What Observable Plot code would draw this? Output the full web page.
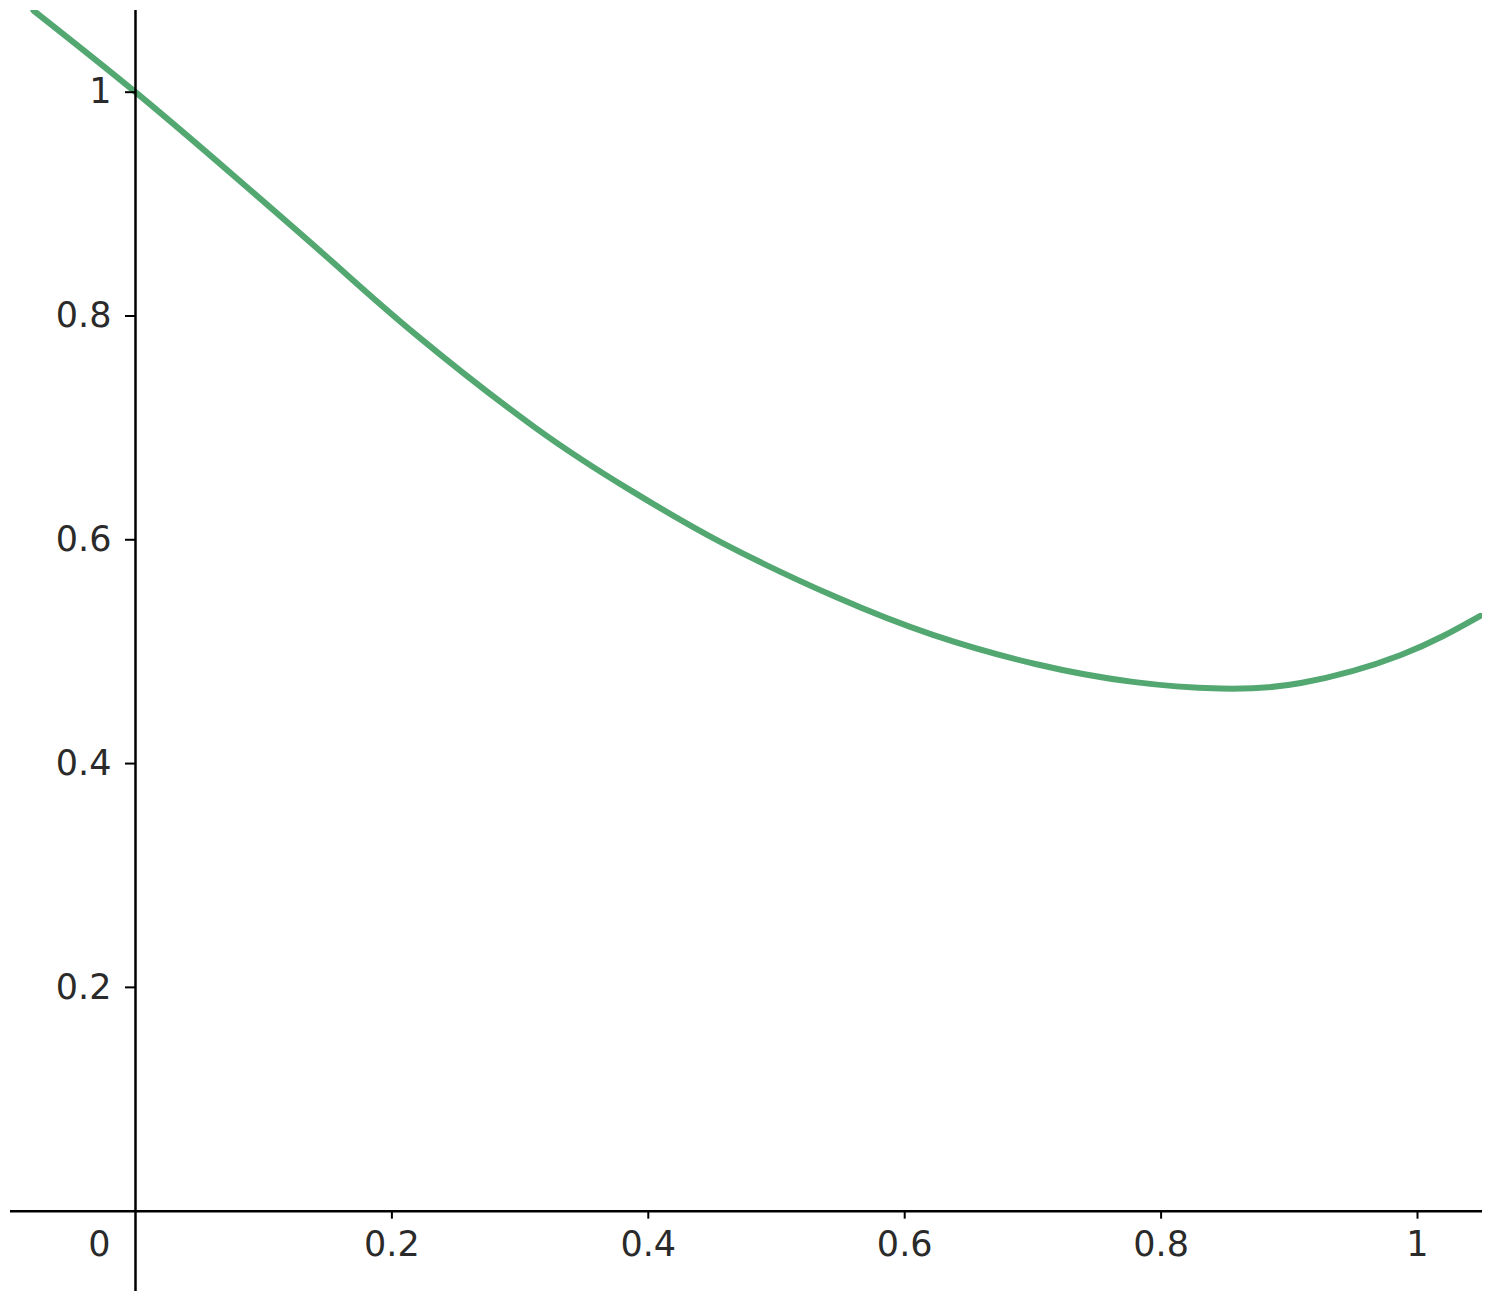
<!DOCTYPE html>
<html>
<head>
<meta charset="utf-8">
<script src="https://cdn.jsdelivr.net/npm/d3@7"></script>
<script src="https://cdn.jsdelivr.net/npm/@observablehq/plot@0.6"></script>
<style>
  html, body { margin: 0; padding: 0; background: #ffffff; }
  #chart svg { display: block; }
</style>
</head>
<body>
<div id="chart"></div>
<script>
// Tick values and labels
const xTicks = [0.2, 0.4, 0.6, 0.8, 1];
const xTickLabels = ["0.2", "0.4", "0.6", "0.8", "1"];
const yTicks = [0.2, 0.4, 0.6, 0.8, 1];
const yTickLabels = ["0.2", "0.4", "0.6", "0.8", "1"];
const originLabel = "0";

// Curve samples
const curveX = [-0.0796, 0, 0.078, 0.152, 0.218, 0.312, 0.385, 0.458, 0.546, 0.622, 0.702, 0.778, 0.846, 0.909, 0.987, 1.049];
const curveY = [1.073, 1.0, 0.924, 0.850, 0.784, 0.700, 0.645, 0.597, 0.549, 0.515, 0.489, 0.473, 0.467, 0.472, 0.497, 0.532];

const points = curveX.map((x, i) => ({x, y: curveY[i]}));

const font = "DejaVu Sans";
const labelColor = "#2a2a2a";
const fs = 35;

const chart = Plot.plot({
  width: 1492,
  height: 1303,
  marginLeft: 10,
  marginRight: 10,
  marginTop: 10,
  marginBottom: 12,
  style: {background: "#ffffff", fontFamily: font},
  x: {domain: [-0.0975, 1.0507], axis: null},
  y: {domain: [-0.0718, 1.0730], axis: null},
  marks: [
    Plot.line(points, {x: "x", y: "y", stroke: "#53a771", strokeWidth: 6, curve: "natural", clip: true}),
    Plot.ruleY([0], {stroke: "#000", strokeWidth: 2.5}),
    Plot.ruleX([0], {stroke: "#000", strokeWidth: 2.5}),
    Plot.ruleX(xTicks, {x: d => d, y1: 0, y2: 0, insetBottom: -8, stroke: "#000", strokeWidth: 2}),
    Plot.ruleY(yTicks, {y: d => d, x1: 0, x2: 0, insetLeft: -10, stroke: "#000", strokeWidth: 2}),
    Plot.text(xTicks, {x: d => d, y: 0, text: (d, i) => xTickLabels[i], dy: 34, fontSize: fs, fontFamily: font, fill: labelColor, textAnchor: "middle"}),
    Plot.text([originLabel], {x: 0, y: 0, text: d => d, dx: -25, dy: 34, fontSize: fs, fontFamily: font, fill: labelColor, textAnchor: "end"}),
    Plot.text(yTicks, {x: 0, y: d => d, text: (d, i) => yTickLabels[i], dx: -24, fontSize: fs, fontFamily: font, fill: labelColor, textAnchor: "end"})
  ]
});
document.getElementById("chart").appendChild(chart);
</script>
</body>
</html>
